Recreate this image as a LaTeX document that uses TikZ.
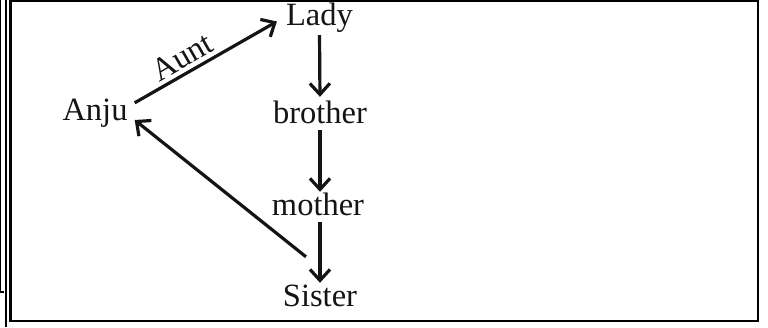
\documentclass[tikz,border=0pt]{standalone}
\usepackage{fontspec}
\setmainfont{Liberation Serif}
\usetikzlibrary{arrows.meta}
\begin{document}
\begin{tikzpicture}[x=1pt,y=-1pt,
  lbl/.style={inner sep=0pt, text height=22pt, text depth=7pt, anchor=base,
    font=\fontsize{32.5}{37}\selectfont, text=black!92},
  rel/.style={line width=3.2pt, draw=black!92,
    -{Straight Barb[length=11pt,width=20pt]}},
  edgelbl/.style={inner sep=3.5pt, font=\fontsize{32.5}{37}\selectfont, text=black!92},
  frameline/.style={line width=2.5pt, draw=black}]
\useasboundingbox (0,0) rectangle (768,327);
% frame
\draw[frameline] (10.5,1.2) rectangle (758,320.8);
\draw[frameline] (6,0) -- (6,327);
\draw[line width=1.2pt] (0.6,0) -- (0.6,292) -- (4,292);
% nodes
\node[lbl] (lady) at (319.5,25) {Lady};
\node[lbl] (brother) at (320,123) {brother};
\node[lbl] (mother) at (318,215) {mother};
\node[lbl] (sister) at (320,306) {Sister};
\node[lbl] (anju) at (95,120) {Anju};
% connectors
\draw[rel, shorten <=3pt, shorten >=4pt] (lady.south) -- (brother.north);
\draw[rel, shorten >=1pt] (brother.south) -- (brother.south |- mother.north);
\draw[rel, shorten >=1pt] (brother.south |- mother.south) -- (sister.north);
\draw[rel] ([shift={(7,5)}]anju.north east) --
  node[edgelbl, pos=0.39, sloped, above] {Aunt} ([shift={(-9,4)}]lady.west);
\draw[rel] ([shift={(-14,-27)}]sister.north) -- ([shift={(7,7.5)}]anju.east);
\end{tikzpicture}
\end{document}
